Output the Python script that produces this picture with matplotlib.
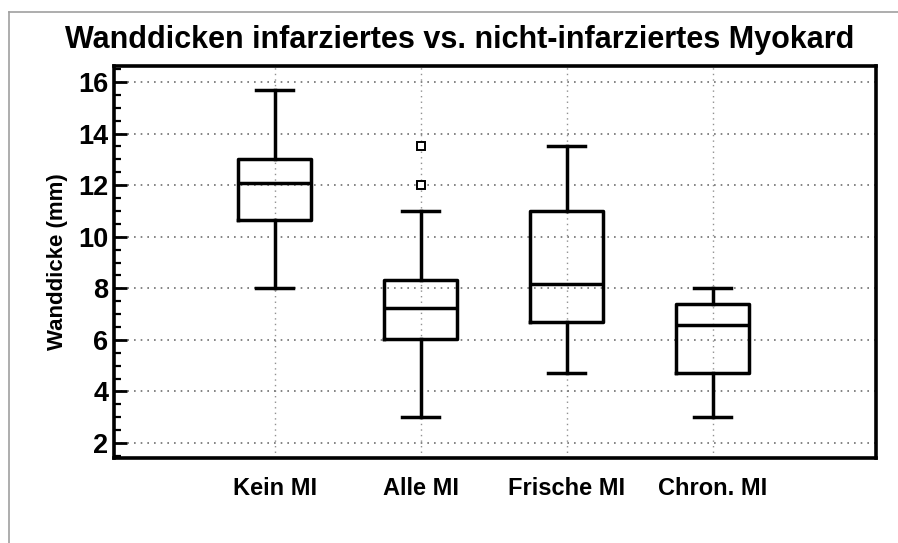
import matplotlib
matplotlib.use("Agg")
import matplotlib.pyplot as plt
from matplotlib.lines import Line2D
from matplotlib.ticker import MultipleLocator

plt.rcParams['font.family'] = ['Liberation Sans', 'DejaVu Sans']

categories = ["Kein MI", "Alle MI", "Frische MI", "Chron. MI"]
whisker_low = [8.0, 3.0, 4.7, 3.0]
q1 = [10.65, 6.05, 6.7, 4.7]
median = [12.1, 7.25, 8.15, 6.57]
q3 = [13.0, 8.32, 11.0, 7.39]
whisker_high = [15.7, 11.0, 13.5, 8.02]
outliers = [[], [13.5, 12.0], [], []]

title = "Wanddicken infarziertes vs. nicht-infarziertes Myokard"
ylabel = "Wanddicke (mm)"
yticks = [2, 4, 6, 8, 10, 12, 14, 16]

stats = []
for i, name in enumerate(categories):
    stats.append(dict(label=name, whislo=whisker_low[i], q1=q1[i], med=median[i],
                      q3=q3[i], whishi=whisker_high[i], fliers=outliers[i]))

fig = plt.figure(figsize=(8.98, 5.43), dpi=100)
ax = fig.add_axes([114/898, 1-458/543, (876-114)/898, (458-66)/543])

lw = 2.5
positions = list(range(1, len(categories) + 1))
ax.bxp(stats, positions=positions, widths=0.5, showfliers=True,
       boxprops=dict(color='black', linewidth=lw),
       whiskerprops=dict(color='black', linewidth=lw),
       capprops=dict(color='black', linewidth=lw),
       medianprops=dict(color='black', linewidth=lw),
       flierprops=dict(marker='s', markersize=5.5, markerfacecolor='white',
                       markeredgecolor='black', markeredgewidth=1.4),
       capwidths=0.25, zorder=3)

ax.set_xlim(-0.10, 5.12)
ax.set_ylim(1.42, 16.62)
ax.set_yticks(yticks)
ax.yaxis.set_minor_locator(MultipleLocator(0.5))
ax.set_xticks(positions)
ax.set_xticklabels(categories, fontsize=17, fontweight='bold')
ax.set_yticklabels([str(t) for t in yticks], fontsize=19.5, fontweight='bold')

ax.tick_params(axis='y', which='major', direction='in', length=9, width=2, pad=4)
ax.tick_params(axis='y', which='minor', direction='in', length=5, width=1.6)
ax.tick_params(axis='x', which='major', length=0, pad=14)
ax.tick_params(axis='y', which='both', right=False)

for s in ax.spines.values():
    s.set_linewidth(2.6)
    s.set_color('black')

ax.yaxis.grid(True, which='major', linestyle=(0, (1, 3)), color='#707070', linewidth=1.2, zorder=0)
ax.xaxis.grid(True, which='major', linestyle=(0, (1, 3)), color='#909090', linewidth=1.0, zorder=0)
ax.set_axisbelow(True)

ax.set_ylabel(ylabel, fontsize=16, fontweight='bold', labelpad=7)

fig.text(460/898, 1-40/543, title, ha='center', va='center', fontsize=22, fontweight='bold')

# light frame around figure (left and top)
fig.add_artist(Line2D([9/898, 9/898], [0, 1-12/543], transform=fig.transFigure, color='#a0a0a0', linewidth=1.2))
fig.add_artist(Line2D([9/898, 1], [1-12/543, 1-12/543], transform=fig.transFigure, color='#a0a0a0', linewidth=1.2))

fig.savefig("out.png", dpi=100)
